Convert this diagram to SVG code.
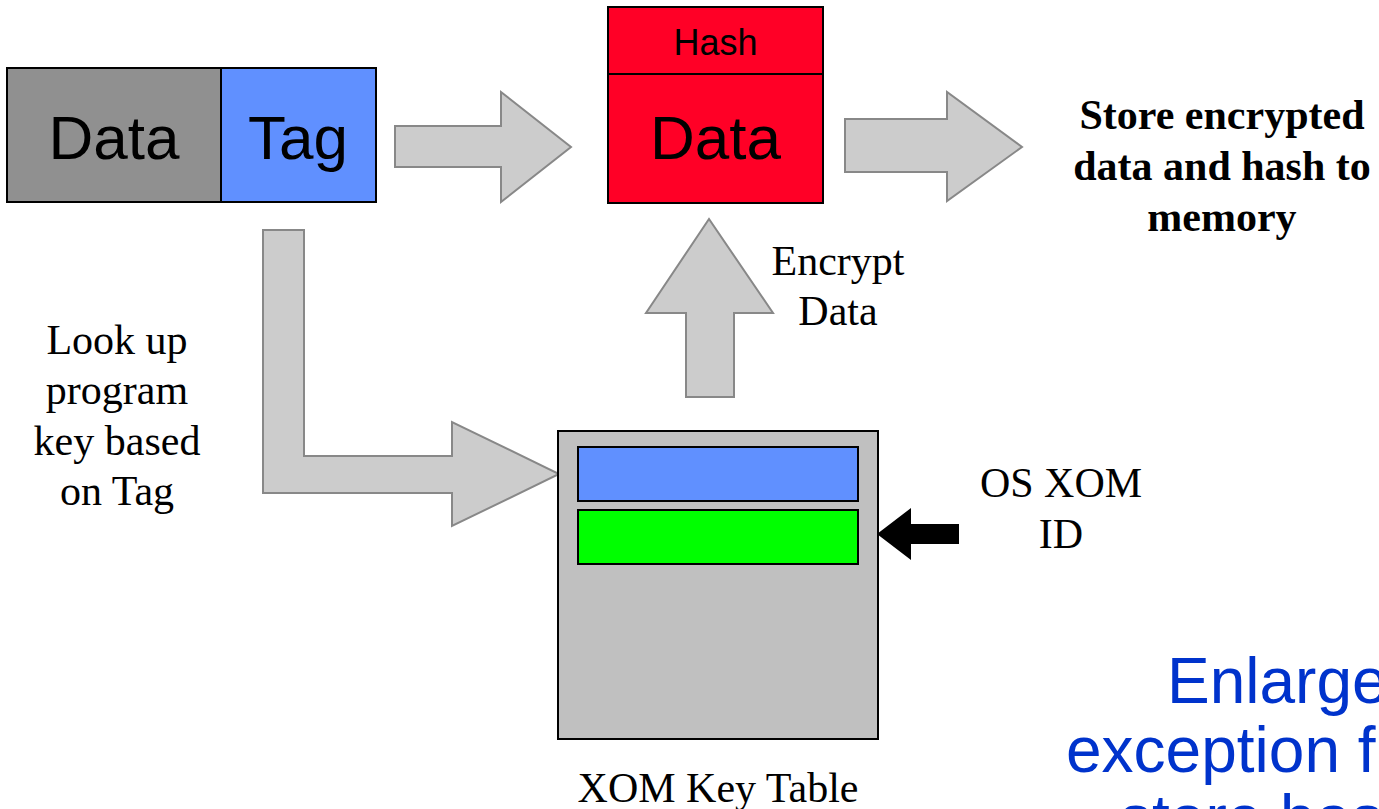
<svg xmlns="http://www.w3.org/2000/svg" width="1379" height="809" viewBox="0 0 1379 809">
<style>
.sans{font-family:"Liberation Sans",Arial,sans-serif}
.serif{font-family:"Liberation Serif","Times New Roman",serif}
.box{stroke:#000;stroke-width:2}
.garrow{fill:#cccccc;stroke:#888888;stroke-width:2;stroke-linejoin:miter}
.lbl{font-size:42px;fill:#000;text-anchor:middle}
.blue{font-size:64px;fill:#0033cc}
</style>
<rect width="1379" height="809" fill="#ffffff"/>
<g id="connectors">
<polygon class="garrow" points="395,126 501,126 501,92 571,147 501,202 501,167 395,167"/>
<polygon class="garrow" points="845,119 947,119 947,92 1022,147 947,201 947,172 845,172"/>
<polygon class="garrow" points="263,230 304,230 304,456 452,456 452,422 559,474 452,526 452,493 263,493"/>
<polygon class="garrow" points="686,397 686,313 646,313 709,219 773,313 734,313 734,397"/>
<polygon fill="#000000" points="959,524 911,524 911,508 877,534 911,560 911,544 959,544"/>
</g>
<g id="input">
<rect class="box" x="7" y="68" width="214" height="134" fill="#909090"/>
<rect class="box" x="221" y="68" width="155" height="134" fill="#6090ff"/>
<text class="sans" x="114" y="159" font-size="62" text-anchor="middle">Data</text>
<text class="sans" x="298" y="159" font-size="62" text-anchor="middle">Tag</text>
</g>
<g id="encrypted">
<rect class="box" x="608" y="7" width="215" height="67" fill="#ff0026"/>
<rect class="box" x="608" y="74" width="215" height="129" fill="#ff0026"/>
<text class="sans" x="715.5" y="55" font-size="36" text-anchor="middle">Hash</text>
<text class="sans" x="715.5" y="159" font-size="62" text-anchor="middle">Data</text>
</g>
<g id="store-label">
<text class="serif" font-weight="bold" font-size="42" text-anchor="middle"><tspan x="1222" y="129">Store encrypted</tspan><tspan x="1222" y="180">data and hash to</tspan><tspan x="1222" y="231">memory</tspan></text>
</g>
<g id="encrypt-label">
<text class="serif lbl"><tspan x="838" y="275">Encrypt</tspan><tspan x="838" y="325">Data</tspan></text>
</g>
<g id="lookup-label">
<text class="serif lbl"><tspan x="117" y="354">Look up</tspan><tspan x="117" y="404">program</tspan><tspan x="117" y="455">key based</tspan><tspan x="117" y="505">on Tag</tspan></text>
</g>
<g id="key-table">
<rect class="box" x="558" y="431" width="320" height="308" fill="#c0c0c0"/>
<rect class="box" x="578" y="447" width="280" height="54" fill="#6090ff"/>
<rect class="box" x="578" y="510" width="280" height="54" fill="#00ff00"/>
<text class="serif lbl" x="718" y="802">XOM Key Table</text>
</g>
<g id="os-label">
<text class="serif lbl"><tspan x="1061" y="497">OS XOM</tspan><tspan x="1061" y="548">ID</tspan></text>
</g>
<g id="note">
<text class="sans blue"><tspan x="1167" y="703">Enlarge</tspan><tspan x="1066" y="772">exception f</tspan><tspan x="1120" y="840">store bas</tspan></text>
</g>
</svg>
